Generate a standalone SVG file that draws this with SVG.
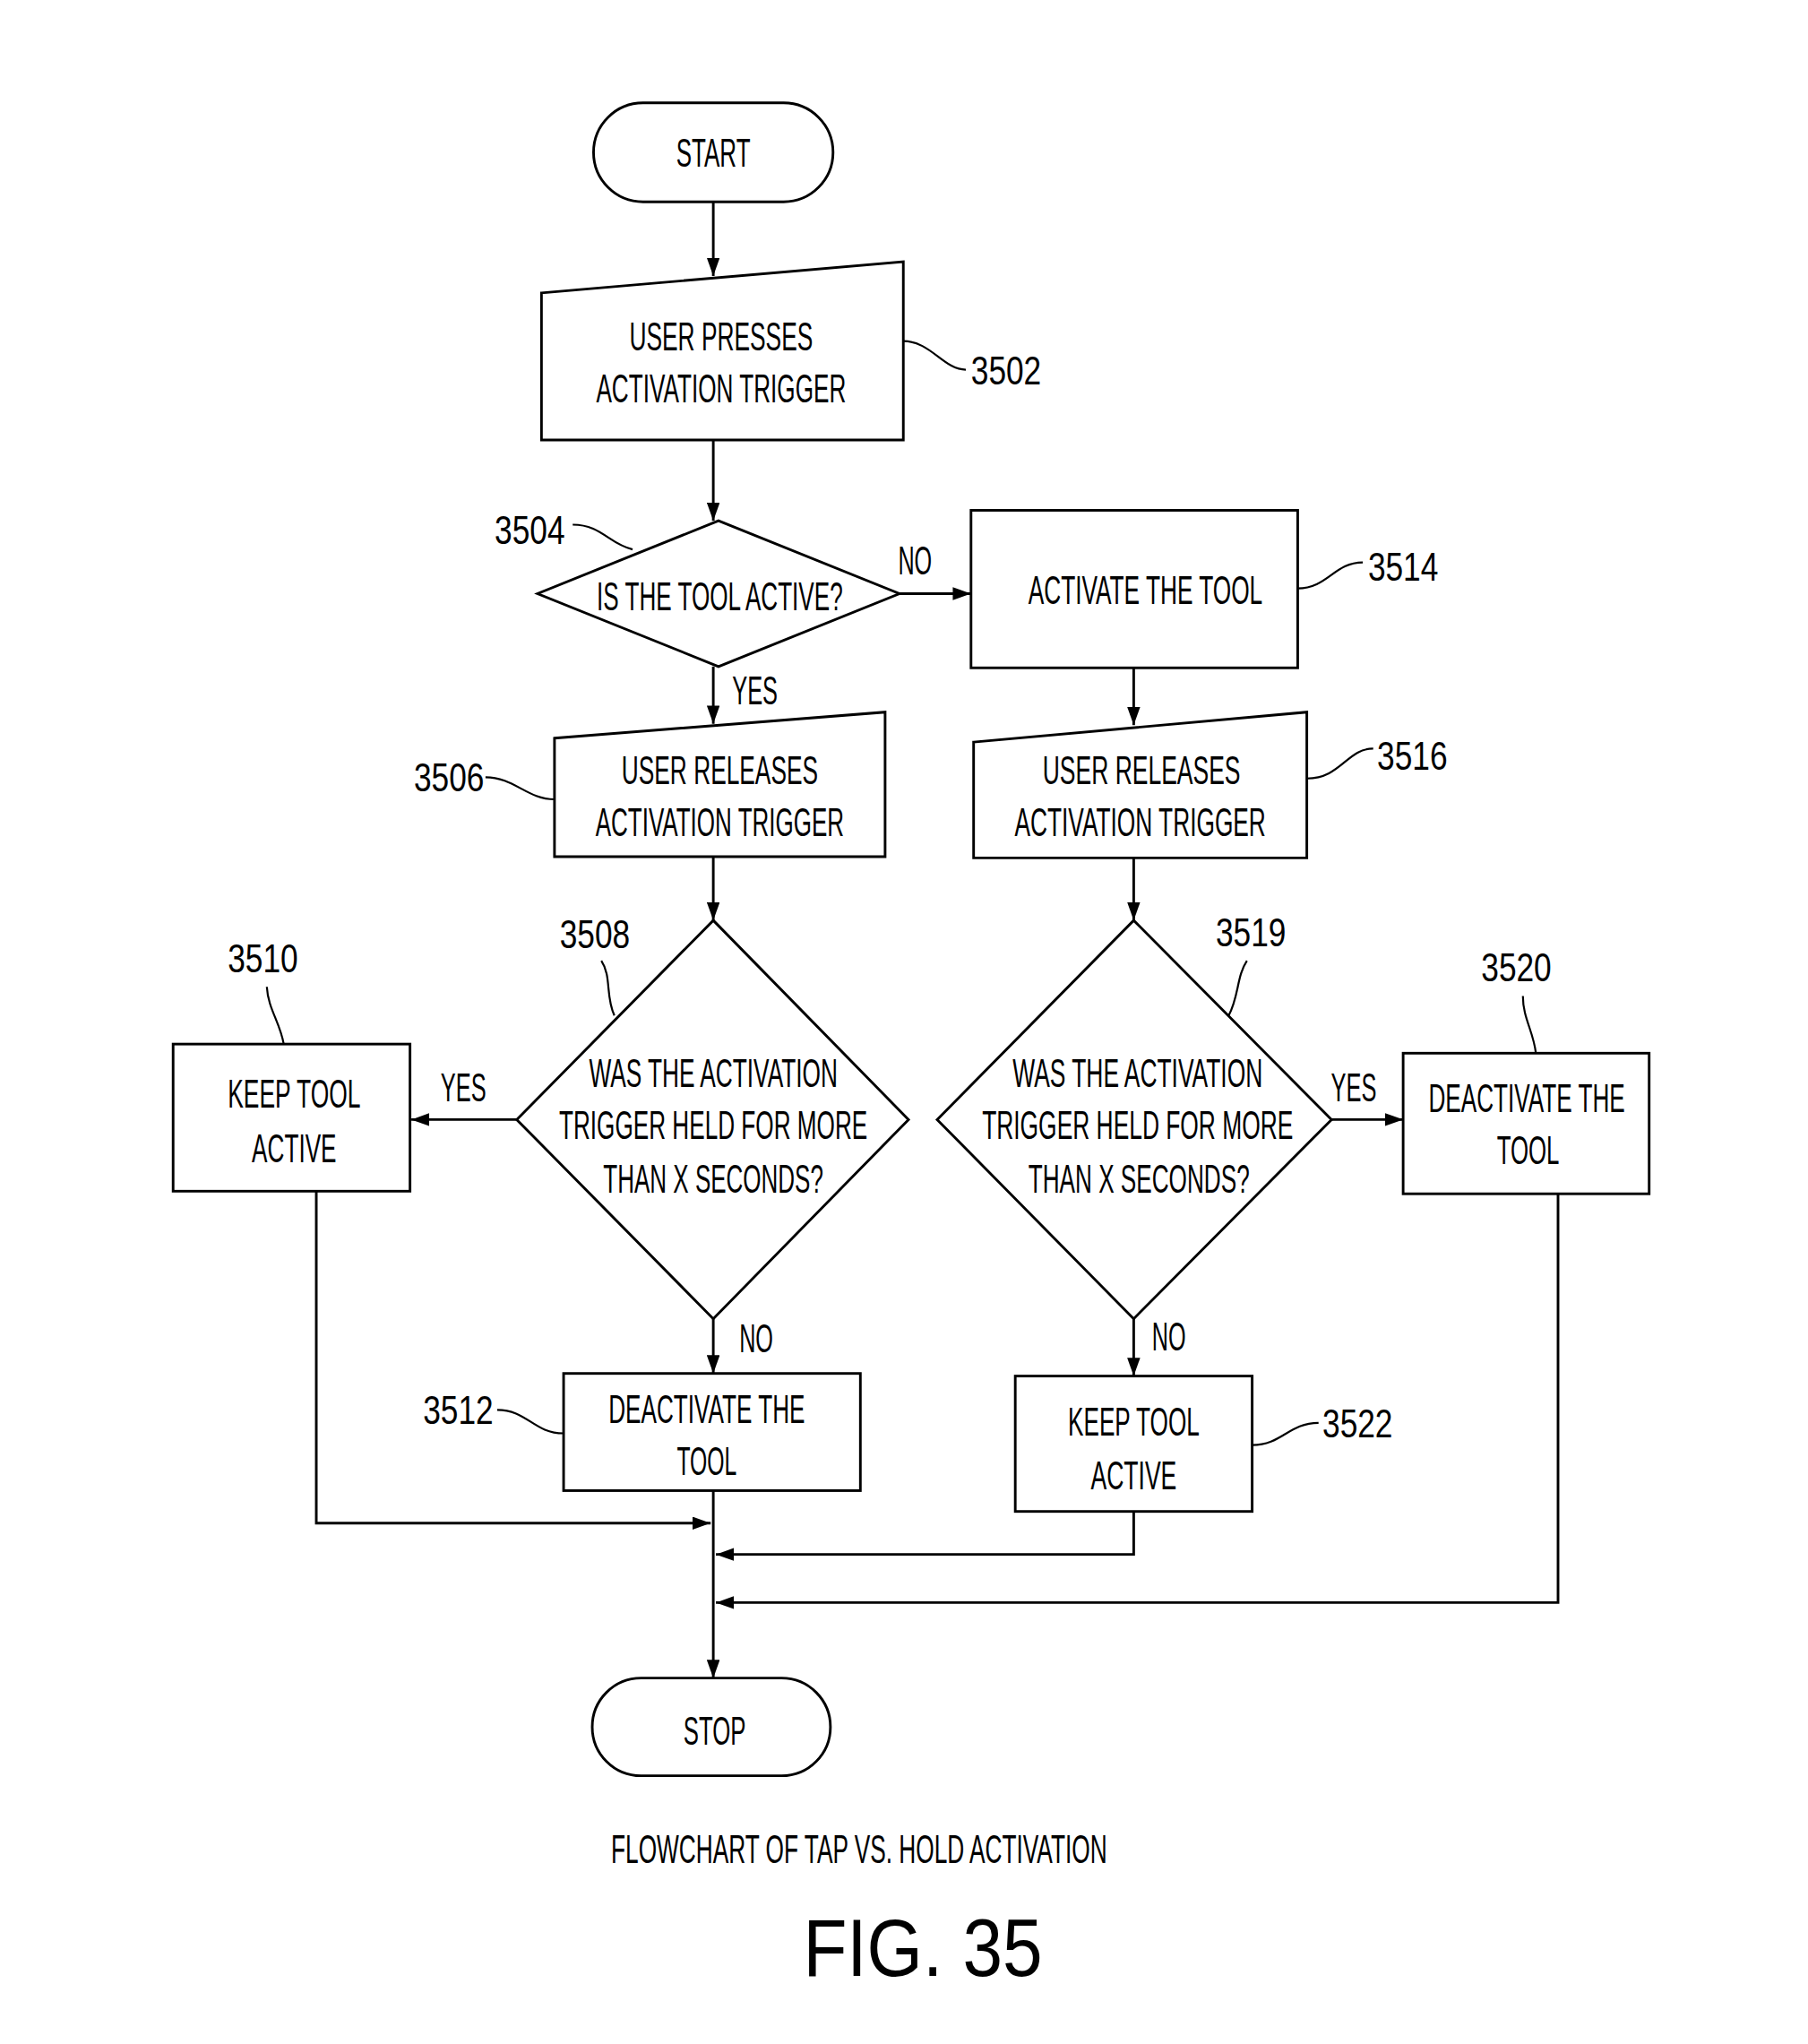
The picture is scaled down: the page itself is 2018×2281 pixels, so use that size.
<svg xmlns="http://www.w3.org/2000/svg" width="2018" height="2281" viewBox="0 0 2018 2281">
<defs>
<marker id="ah" viewBox="0 0 14 10" refX="14" refY="5" markerWidth="14" markerHeight="10" orient="auto" markerUnits="userSpaceOnUse"><path d="M0,0 L14,5 L0,10 z" fill="#000"/></marker>
<style>
.s{fill:#fff;stroke:#000;stroke-width:2}
.c{fill:none;stroke:#000;stroke-width:2}
.l{fill:none;stroke:#000;stroke-width:1.5}
.c path{marker-end:url(#ah)}
text{font-family:"Liberation Sans",Arial,sans-serif;font-size:30px;text-anchor:middle;fill:#000}
</style>
</defs>
<rect width="2018" height="2281" fill="#fff"/>
<g transform="scale(1.4528)">
<g id="start"><rect class="s" x="456" y="79" width="184" height="76" rx="38"/><text x="548" y="128" textLength="57" lengthAdjust="spacingAndGlyphs">START</text></g>
<g id="n3502"><path class="s" d="M416,225 L694,201 L694,338 L416,338 Z"/><text x="554" y="269" textLength="141" lengthAdjust="spacingAndGlyphs">USER PRESSES</text><text x="554" y="309" textLength="192" lengthAdjust="spacingAndGlyphs">ACTIVATION TRIGGER</text><path class="l" d="M694,262 C715,262 725,284 742,284"/><text x="773" y="295" textLength="54" lengthAdjust="spacingAndGlyphs">3502</text></g>
<g id="n3504"><path class="s" d="M552,400 L691,456 L552,512 L413,456 Z"/><text x="553" y="469" textLength="189" lengthAdjust="spacingAndGlyphs">IS THE TOOL ACTIVE?</text><path class="l" d="M440,403 C462,403 468,418 486,422"/><text x="407" y="418" textLength="54" lengthAdjust="spacingAndGlyphs">3504</text></g>
<g id="n3514"><rect class="s" x="746" y="392" width="251" height="121"/><text x="880" y="464" textLength="180" lengthAdjust="spacingAndGlyphs">ACTIVATE THE TOOL</text><path class="l" d="M997,452 C1020,452 1025,432 1047,432"/><text x="1078" y="446" textLength="54" lengthAdjust="spacingAndGlyphs">3514</text></g>
<g id="n3506"><path class="s" d="M426,567 L680,547 L680,658 L426,658 Z"/><text x="553" y="602" textLength="151" lengthAdjust="spacingAndGlyphs">USER RELEASES</text><text x="553" y="642" textLength="191" lengthAdjust="spacingAndGlyphs">ACTIVATION TRIGGER</text><path class="l" d="M373,597 C395,597 405,614 426,614"/><text x="345" y="608" textLength="54" lengthAdjust="spacingAndGlyphs">3506</text></g>
<g id="n3516"><path class="s" d="M748,570 L1004,547 L1004,659 L748,659 Z"/><text x="877" y="602" textLength="152" lengthAdjust="spacingAndGlyphs">USER RELEASES</text><text x="876" y="642" textLength="193" lengthAdjust="spacingAndGlyphs">ACTIVATION TRIGGER</text><path class="l" d="M1004,598 C1030,598 1035,575 1055,575"/><text x="1085" y="591" textLength="54" lengthAdjust="spacingAndGlyphs">3516</text></g>
<g id="n3508"><path class="s" d="M548,707 L698,860 L548,1013 L397,860 Z"/><text x="548" y="835" textLength="191" lengthAdjust="spacingAndGlyphs">WAS THE ACTIVATION</text><text x="548" y="875" textLength="237" lengthAdjust="spacingAndGlyphs">TRIGGER HELD FOR MORE</text><text x="548" y="916" textLength="169" lengthAdjust="spacingAndGlyphs">THAN X SECONDS?</text><path class="l" d="M472,780 C465,765 470,750 462,738"/><text x="457" y="728" textLength="54" lengthAdjust="spacingAndGlyphs">3508</text></g>
<g id="n3519"><path class="s" d="M871,707 L1023,860 L871,1013 L720,860 Z"/><text x="874" y="835" textLength="192" lengthAdjust="spacingAndGlyphs">WAS THE ACTIVATION</text><text x="874" y="875" textLength="239" lengthAdjust="spacingAndGlyphs">TRIGGER HELD FOR MORE</text><text x="875" y="916" textLength="170" lengthAdjust="spacingAndGlyphs">THAN X SECONDS?</text><path class="l" d="M944,780 C952,765 950,750 958,738"/><text x="961" y="727" textLength="54" lengthAdjust="spacingAndGlyphs">3519</text></g>
<g id="n3510"><rect class="s" x="133" y="802" width="182" height="113"/><text x="226" y="851" textLength="102" lengthAdjust="spacingAndGlyphs">KEEP TOOL</text><text x="226" y="893" textLength="65" lengthAdjust="spacingAndGlyphs">ACTIVE</text><path class="l" d="M218,802 C215,785 206,775 205,758"/><text x="202" y="747" textLength="54" lengthAdjust="spacingAndGlyphs">3510</text></g>
<g id="n3520"><rect class="s" x="1078" y="809" width="189" height="108"/><text x="1173" y="854" textLength="151" lengthAdjust="spacingAndGlyphs">DEACTIVATE THE</text><text x="1174" y="894" textLength="48" lengthAdjust="spacingAndGlyphs">TOOL</text><path class="l" d="M1180,809 C1178,792 1170,782 1170,765"/><text x="1165" y="754" textLength="54" lengthAdjust="spacingAndGlyphs">3520</text></g>
<g id="n3512"><rect class="s" x="433" y="1055" width="228" height="90"/><text x="543" y="1093" textLength="151" lengthAdjust="spacingAndGlyphs">DEACTIVATE THE</text><text x="543" y="1133" textLength="46" lengthAdjust="spacingAndGlyphs">TOOL</text><path class="l" d="M382,1083 C405,1083 410,1101 433,1101"/><text x="352" y="1094" textLength="54" lengthAdjust="spacingAndGlyphs">3512</text></g>
<g id="n3522"><rect class="s" x="780" y="1057" width="182" height="104"/><text x="871" y="1103" textLength="101" lengthAdjust="spacingAndGlyphs">KEEP TOOL</text><text x="871" y="1144" textLength="66" lengthAdjust="spacingAndGlyphs">ACTIVE</text><path class="l" d="M962,1110 C985,1110 990,1093 1013,1093"/><text x="1043" y="1104" textLength="54" lengthAdjust="spacingAndGlyphs">3522</text></g>
<g id="stop"><rect class="s" x="455" y="1289" width="183" height="75" rx="37.5"/><text x="549" y="1340" textLength="48" lengthAdjust="spacingAndGlyphs">STOP</text></g>
<g id="connectors" class="c">
<path d="M548,155 L548,212"/>
<path d="M548,338 L548,400"/>
<path d="M691,456 L746,456"/>
<path d="M548,512 L548,556"/>
<path d="M871,513 L871,557"/>
<path d="M548,658 L548,707"/>
<path d="M871,659 L871,707"/>
<path d="M397,860 L316,860"/>
<path d="M1023,860 L1078,860"/>
<path d="M548,1013 L548,1055"/>
<path d="M871,1013 L871,1057"/>
<path d="M243,915 L243,1170 L546,1170"/>
<path d="M871,1161 L871,1194 L550,1194"/>
<path d="M1197,917 L1197,1231 L550,1231"/>
<path d="M548,1145 L548,1289"/>
</g>
<g id="labels">
<text x="703" y="441" textLength="26" lengthAdjust="spacingAndGlyphs">NO</text>
<text x="580" y="541" textLength="35" lengthAdjust="spacingAndGlyphs">YES</text>
<text x="356" y="846" textLength="35" lengthAdjust="spacingAndGlyphs">YES</text>
<text x="1040" y="846" textLength="35" lengthAdjust="spacingAndGlyphs">YES</text>
<text x="581" y="1039" textLength="26" lengthAdjust="spacingAndGlyphs">NO</text>
<text x="898" y="1037" textLength="26" lengthAdjust="spacingAndGlyphs">NO</text>
</g>
<text x="660" y="1431" textLength="381" lengthAdjust="spacingAndGlyphs">FLOWCHART OF TAP VS. HOLD ACTIVATION</text>
<text x="709" y="1518" style="font-size:62px" textLength="184" lengthAdjust="spacingAndGlyphs">FIG. 35</text>
</g>
</svg>
